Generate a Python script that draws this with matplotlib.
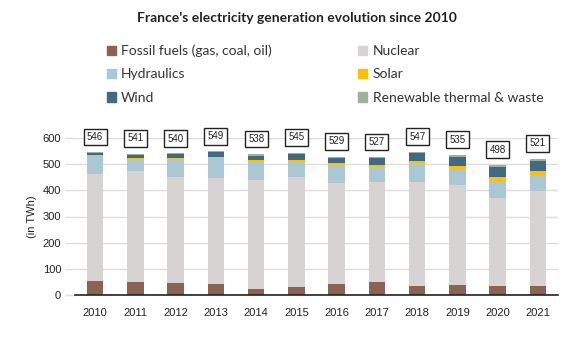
import matplotlib
matplotlib.use("Agg")
import matplotlib.pyplot as plt
import numpy as np
from matplotlib.patches import Patch

years = ["2010", "2011", "2012", "2013", "2014", "2015", "2016", "2017", "2018", "2019", "2020", "2021"]
fossil = [54, 50, 46, 42, 23, 31, 42, 50, 35, 38, 35, 35]
nuclear = [410, 422, 406, 406, 418, 421, 387, 383, 398, 383, 337, 363]
hydro = [69, 49, 67, 78, 69, 58, 67, 55, 70, 62, 65, 62]
solar = [1, 2, 4, 3, 6, 7, 8, 8, 8, 11, 15, 15]
wind = [10, 12, 15, 16, 16, 23, 18, 26, 30, 34, 38, 38]
renew_thermal = [2, 4, 3, 4, 7, 4, 7, 4, 7, 7, 8, 8]
totals = [546, 541, 540, 549, 538, 545, 529, 527, 547, 535, 498, 521]

series = [
    ("Fossil fuels (gas, coal, oil)", fossil, "#8B6354"),
    ("Nuclear", nuclear, "#D7D3D2"),
    ("Hydraulics", hydro, "#ABC7D4"),
    ("Solar", solar, "#FFC000"),
    ("Wind", wind, "#426A7F"),
    ("Renewable thermal & waste", renew_thermal, "#9DB29D"),
]

fig = plt.figure(figsize=(5.86, 3.44), dpi=100)
ax = fig.add_axes([75/586, 1-295/344, (558-75)/586, (295-138)/344])

x = np.arange(len(years))
bottom = np.zeros(len(years))
for name, vals, col in series:
    ax.bar(x, vals, width=0.41, bottom=bottom, color=col, label=name, zorder=3)
    bottom += np.array(vals)

for xi, t in zip(x, totals):
    ax.text(xi, t + 58, str(t), ha="center", va="center", fontsize=7,
            family="Liberation Sans", color="#222222",
            bbox=dict(boxstyle="square,pad=0.35", fc="white", ec="#222222", lw=1),
            zorder=5, clip_on=False)

ax.set_xlim(-0.5, len(years) - 0.5)
ax.set_ylim(0, 600)
ax.set_yticks([0, 100, 200, 300, 400, 500, 600])
ax.set_xticks(x)
ax.set_xticklabels(years)
for lbl in ax.get_xticklabels() + ax.get_yticklabels():
    lbl.set_family("Liberation Sans")
    lbl.set_fontsize(8)
    lbl.set_color("#222222")
ax.tick_params(axis="x", length=0, pad=9)
ax.tick_params(axis="y", length=7, color="#DDDDDD", width=1, pad=3)
ax.grid(axis="y", color="#DDDDDD", lw=1, zorder=0)
for s in ["top", "right", "left"]:
    ax.spines[s].set_visible(False)
ax.spines["bottom"].set_color("#222222")
ax.spines["bottom"].set_linewidth(1.2)
ax.spines["bottom"].set_zorder(4)
ax.set_ylabel("(in TWh)", fontsize=8, family="Liberation Sans", color="#222222", labelpad=4)

fig.text(0.506, 1-18/344, "France's electricity generation evolution since 2010",
         ha="center", va="center", fontsize=10, fontweight="bold",
         family="Lato", color="#222222")

order = [0, 2, 4, 1, 3, 5]
handles = [Patch(color=series[i][2]) for i in order]
labels = [series[i][0] for i in order]
fig.legend(handles, labels, ncol=2, loc="upper left",
           bbox_to_anchor=(94/586, 1-32/344), frameon=False,
           prop=dict(family="Lato", size=10), handlelength=0.65, handleheight=0.65,
           handletextpad=0.4, columnspacing=6.2, labelspacing=0.82, labelcolor="#333333")

fig.savefig("out.png", dpi=100)
